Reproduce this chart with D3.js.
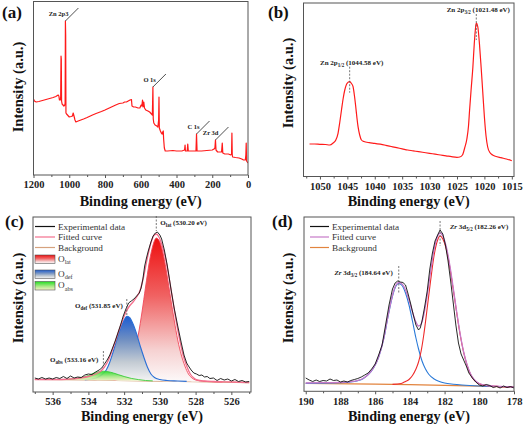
<!DOCTYPE html>
<html><head><meta charset="utf-8">
<script src="https://cdn.jsdelivr.net/npm/d3@7"></script>
<style>body{margin:0;background:#fff}svg{display:block}</style>
</head><body>
<svg id="chart" width="524" height="426"></svg>
<script>
// ---------------- DATA ----------------
// (a) XPS survey: [binding energy (eV), intensity (a.u.)]
const surveyData = [[1200,76],[1195,74],[1185,73],[1170,73.5],[1150,74.5],[1130,75.5],[1110,76.5],[1090,77.5],[1075,78.5],[1062,80],[1058,79],[1055,75],[1050,75],[1048,78],[1046,119],[1044.5,116],[1043,74],[1040,71],[1035,70],[1030,69],[1025,70],[1023,72],[1021.5,154],[1020,140],[1018.5,62],[1015,61],[1010,60],[1000,58],[990,58.5],[982,59],[978,62],[975,60],[972,58],[968,55],[963,53],[950,54],[920,56],[900,57.5],[870,60],[850,61.5],[820,63.5],[800,65],[770,67.5],[740,70],[720,71.5],[700,72],[690,73],[680,73],[670,74],[660,75],[652,75.5],[649,69],[640,68],[630,68],[615,67],[605,67],[598,70],[594,69],[590,75],[587,68],[583,73],[579,67],[572,65],[560,64],[550,63],[540,61],[535,60],[532,88],[530,56],[527,52],[520,50],[510,49],[504,48],[500,55],[498,78],[496,47],[490,44],[485,42],[480,41],[477,43],[474,44],[472,36],[468,27],[463,24],[450,24],[420,24.5],[400,24],[370,24],[355,25],[352,30],[350,24],[340,24],[337,31],[334,24],[320,24],[300,24],[291,24],[288,41],[285,24],[260,24],[230,24.5],[200,25],[190,26],[185,27],[182,35],[179,25],[170,23],[160,23],[148,23],[144,32],[141,22],[130,21],[110,21],[96,20],[92,21],[90,42],[88,20],[86,18],[70,17.5],[50,17],[35,16],[25,15],[15,15],[12,20],[10,32],[8,14],[4,13],[0,12]];
const surveyTicks = [1200,1000,800,600,400,200,0];
const surveyMinor = [1100,900,700,500,300,100];
const surveyPeaks = [["Zn 2p3",1021.5,154],["O 1s",532,88],["C 1s",288,41],["Zr 3d",182,35]];

// (b) Zn 2p
const zn2pData = [[1051.9,32],[1051,32],[1050,31.7],[1049,31.5],[1048.2,31],[1047.6,33],[1047.1,36],[1046.7,42.7],[1046.4,53],[1046.07,66],[1045.75,78],[1045.47,86],[1045.05,92.7],[1044.58,94.3],[1044.25,92.5],[1043.96,89.3],[1043.7,80],[1043.47,69.3],[1043.25,58],[1043.05,49.3],[1042.75,41],[1042.43,36],[1042,34.5],[1041,33.3],[1040,32.7],[1039,31.8],[1038,30.7],[1037,29.5],[1036,28.3],[1035,27.2],[1034,26],[1033,25.2],[1032,24.3],[1031,23.5],[1030,22.7],[1029,21.8],[1028,21],[1027,20.2],[1026,19.3],[1025,18.7],[1024.5,19],[1024,21],[1023.6,28],[1023.2,37],[1022.9,50],[1022.7,66],[1022.4,88],[1022.1,109],[1021.85,132],[1021.6,149],[1021.48,153],[1021.2,149],[1020.9,132],[1020.6,109],[1020.3,84],[1020.0,59],[1019.7,40],[1019.4,29],[1019.0,23.5],[1018.5,21],[1018,19.8],[1017,18.3],[1016,17],[1015,15.3]];
const zn2pTicks = [1050,1045,1040,1035,1030,1025,1020,1015];
const zn2pMinor = [1052.5,1047.5,1042.5,1037.5,1032.5,1027.5,1022.5,1017.5];
const zn2pPeaks = [["2p","3/2","(1021.48 eV)",1021.48,153],["2p","1/2","(1044.58 eV)",1044.58,94.3]];

// (c) O 1s
const o1sExp = [[537.0,14],[536.8,13],[536.6,14.5],[536.4,13],[536.2,14],[536.0,13],[535.8,14.5],[535.6,13.5],[535.4,15.5],[535.2,13.5],[535.0,16],[534.8,14],[534.6,15],[534.4,14.5],[534.2,17],[534.0,18],[533.8,17.5],[533.6,20],[533.4,22],[533.25,24],[533.1,28],[532.95,32],[532.8,37],[532.65,44],[532.5,51],[532.35,59],[532.2,67],[532.05,76],[531.9,83],[531.75,89],[531.6,91],[531.45,93],[531.3,96],[531.15,99],[531.05,104],[530.95,113],[530.85,126],[530.75,134],[530.65,141],[530.5,150],[530.38,156],[530.25,159],[530.14,160],[530.0,157],[529.9,153],[529.75,142],[529.6,128],[529.5,117],[529.37,102],[529.2,84],[529.0,66],[528.8,49],[528.65,37],[528.5,29],[528.4,26],[528.25,22],[528.1,19],[527.95,18],[527.8,16.5],[527.65,17],[527.5,15],[527.35,15.5],[527.2,13.5],[527.0,14],[526.8,11.5],[526.6,13.5],[526.4,12],[526.2,13],[526.0,11],[525.8,12.5],[525.6,10.5],[525.4,11.5],[525.2,10],[525.0,10.5]];
const o1sFit = [[537.0,12.5],[536,12.5],[535,13],[534.5,14],[534,15.5],[533.6,18],[533.3,21],[533.1,25],[532.9,31],[532.7,40],[532.5,50],[532.3,61],[532.1,71],[531.9,80],[531.7,86],[531.5,90],[531.3,95],[531.1,102],[530.9,116],[530.7,134],[530.5,149],[530.35,156],[530.2,158],[530.05,155],[529.9,148],[529.7,135],[529.5,116],[529.3,94],[529.1,72],[528.9,53],[528.7,37],[528.5,26],[528.3,18],[528.1,14],[527.9,12],[527.5,11],[527,10.5],[526,10],[525,9.5]];
const o1sBg = [[537,12.5],[534,12],[531,11.2],[528,10.3],[525,9.3]];
const oLat = [[532.6,12],[532.2,13],[532.0,16],[531.8,22],[531.6,31],[531.4,43],[531.2,58],[531.0,80],[530.8,105],[530.6,129],[530.4,146],[530.2,154],[530.0,150],[529.8,137],[529.6,117],[529.4,94],[529.2,72],[529.0,52],[528.8,37],[528.6,26],[528.4,18],[528.2,14],[528.0,12],[527.6,10.8],[527.0,10.2],[526.5,10]];
const oDef = [[534.2,12.2],[533.8,13],[533.5,14.5],[533.2,18],[533.0,22],[532.8,30],[532.6,41],[532.4,53],[532.2,64],[532.0,72],[531.85,75.7],[531.7,74.5],[531.5,68],[531.3,58],[531.1,46],[530.9,35],[530.7,25],[530.5,18],[530.3,14.5],[530.0,12.5],[529.6,11.5],[529.0,11],[528.5,10.6]];
const oAbs = [[535.2,12.6],[534.8,13.3],[534.4,14.5],[534.0,16.5],[533.7,18.8],[533.4,20.3],[533.16,20.8],[532.9,20.3],[532.6,19],[532.3,17.2],[532.0,15.5],[531.6,13.6],[531.2,12.4],[530.8,11.5],[530.4,11.1]];
const o1sTicks = [536,534,532,530,528,526];
const o1sMinor = [537,535,533,531,529,527,525];
const o1sPeaks = [["lat","(530.20 eV)",530.20],["def","(531.85 eV)",531.85],["abs","(533.16 eV)",533.16]];

// (d) Zr 3d
const zrExp = [[190.0,13],[189.8,11],[189.6,9.5],[189.4,11],[189.2,9.5],[189.0,10.5],[188.8,10],[188.6,12],[188.4,10.5],[188.2,11],[188.0,9],[187.8,10],[187.6,9],[187.4,10.5],[187.2,11.5],[187.0,12.5],[186.8,14],[186.6,16],[186.4,18],[186.2,22],[186.0,27],[185.8,36],[185.6,46],[185.4,66],[185.2,86],[185.0,102],[184.85,108],[184.7,110],[184.55,109],[184.4,108.5],[184.25,106],[184.1,97],[183.95,87],[183.8,76],[183.65,66],[183.5,61],[183.4,63],[183.3,70],[183.15,84],[183.0,100],[182.85,122],[182.7,138],[182.55,150],[182.4,156],[182.26,161],[182.1,157],[181.95,146],[181.8,130],[181.65,110],[181.5,88],[181.35,66],[181.2,48],[181.05,37],[180.9,31],[180.75,25],[180.6,18],[180.4,13],[180.2,9],[180.0,6],[179.8,5],[179.6,6.5],[179.4,5.5],[179.2,3.5],[179.0,4.5],[178.8,3],[178.6,5],[178.4,3.5],[178.2,4.5],[178.0,3]];
const zrFit = [[190,8],[189,8.3],[188,8.6],[187.5,9.2],[187,10.5],[186.7,12.5],[186.4,16.5],[186.1,23],[185.8,34],[185.5,53],[185.25,76],[185.0,96],[184.8,106],[184.64,108.5],[184.45,107],[184.25,101],[184.05,91],[183.85,79],[183.65,69],[183.5,65],[183.35,67],[183.2,76],[183.0,96],[182.8,120],[182.6,142],[182.4,155],[182.26,158],[182.1,155],[181.9,144],[181.7,126],[181.5,103],[181.3,79],[181.1,57],[180.9,39],[180.7,26],[180.5,17],[180.3,11.5],[180.0,7.5],[179.5,5.5],[179,4.8],[178,4]];
const zrBg = [[190,7.6],[186,6.8],[184,6.4],[182,5.6],[180,4.8],[178,4]];
const zr32 = [[190,7.6],[188,8.2],[187.5,8.8],[187,10.3],[186.7,12.3],[186.4,16.3],[186.1,22.8],[185.8,33.8],[185.5,52.5],[185.25,75],[185.0,95],[184.8,105],[184.64,107.5],[184.45,105.5],[184.25,98],[184.05,86],[183.85,70],[183.65,53],[183.5,42],[183.3,30],[183.1,22],[182.9,16.5],[182.6,12],[182.3,9.5],[182,8],[181.5,6.8],[181,6],[180,5],[179,4.5],[178,4]];
const zr52 = [[185,6.6],[184.5,7.5],[184.25,9.6],[184.05,11.5],[183.85,15.5],[183.65,22],[183.5,29],[183.35,40],[183.2,56],[183.0,83],[182.8,111],[182.6,136],[182.4,151],[182.26,155],[182.1,152],[181.9,142],[181.7,124],[181.5,101.5],[181.3,78],[181.1,56],[180.9,38.5],[180.7,25.5],[180.5,16.5],[180.3,11],[180.0,7.2],[179.5,5.3],[179,4.6],[178,4]];
const zrTicks = [190,188,186,184,182,180,178];
const zrMinor = [189,187,185,183,181,179];
const zrPeaks = [["5/2","(182.26 eV)",182.26],["3/2","(184.64 eV)",184.64]];

// ---------------- DRAWING ----------------
const SERIF = "'Liberation Serif','Times New Roman',Times,serif";
const svg = d3.select('#chart');
const defs = svg.append('defs');

function grad(id, stops){
  const lg = defs.append('linearGradient').attr('id',id).attr('x1',0).attr('y1',0).attr('x2',0).attr('y2',1);
  stops.forEach(([o,c])=>lg.append('stop').attr('offset',o).attr('stop-color',c));
}
grad('gLat',[[0,'#ee1010'],[0.4,'#f06262'],[0.78,'#f6d2d2'],[1,'#fdfafa']]);
grad('gDef',[[0,'#1c5cd2'],[0.35,'#6e8ec2'],[0.7,'#c3cbd3'],[1,'#f5f5f5']]);
grad('gAbs',[[0,'#22dd22'],[0.55,'#a6e884'],[1,'#f6f2c8']]);

function makeInterp(arr){
  const s = arr.slice().sort((a,b)=>a[0]-b[0]); const xs = s.map(d=>d[0]);
  return E => { const i = d3.bisectLeft(xs,E);
    if(i<=0) return s[0][1]; if(i>=s.length) return s[s.length-1][1];
    const a=s[i-1], b=s[i], t=(E-a[0])/(b[0]-a[0]); return a[1]+t*(b[1]-a[1]); };
}

function addPanel(c){
  const g = svg.append('g');
  const x = d3.scaleLinear().domain(c.xd).range([c.left,c.right]);
  const y = d3.scaleLinear().domain(c.yd).range([c.bottom,c.top]);
  defs.append('clipPath').attr('id','clip'+c.id).append('rect')
    .attr('x',c.left).attr('y',c.top).attr('width',c.right-c.left).attr('height',c.bottom-c.top);
  const plot = g.append('g').attr('clip-path',`url(#clip${c.id})`);
  const ax1 = g.append('g').attr('transform',`translate(0,${c.bottom})`)
    .call(d3.axisBottom(x).tickValues(c.minor).tickSize(2).tickFormat(''));
  ax1.select('.domain').remove();
  ax1.selectAll('text').remove();
  const ax2 = g.append('g').attr('transform',`translate(0,${c.bottom})`)
    .call(d3.axisBottom(x).tickValues(c.major).tickSize(3).tickPadding(3).tickFormat(d3.format('d')));
  ax2.select('.domain').remove();
  g.selectAll('.tick line').attr('stroke','#555');
  ax2.selectAll('text').attr('font-family',SERIF).attr('font-weight','bold').attr('font-size',10.5).attr('fill','#222');
  g.append('rect').attr('x',c.left).attr('y',c.top).attr('width',c.right-c.left).attr('height',c.bottom-c.top)
    .attr('fill','none').attr('stroke','#555').attr('stroke-width',1);
  g.append('text').attr('x',(c.left+c.right)/2).attr('y',c.xtY).attr('text-anchor','middle')
    .attr('font-family',SERIF).attr('font-weight','bold').attr('font-size',14.2).attr('fill','#111')
    .text('Binding energy (eV)');
  g.append('text').attr('transform',`translate(${c.ytX},${c.ytY}) rotate(-90)`).attr('text-anchor','middle')
    .attr('font-family',SERIF).attr('font-weight','bold').attr('font-size',14.5).attr('fill','#111')
    .text('Intensity (a.u.)');
  g.append('text').attr('x',c.labX).attr('y',c.labY)
    .attr('font-family',SERIF).attr('font-weight','bold').attr('font-size',17).attr('fill','#111').text(c.label);
  return {g,plot,x,y};
}

const lineGen = (x,y,curve)=>d3.line().x(d=>x(d[0])).y(d=>y(d[1])).curve(curve||d3.curveLinear);

function richText(parent, xPos, yPos, anchor, size, parts){
  const t = parent.append('text').attr('x',xPos).attr('y',yPos).attr('text-anchor',anchor)
    .attr('font-family',SERIF).attr('font-weight','bold').attr('font-size',size).attr('fill','#222');
  parts.forEach(p=>{
    const ts = t.append('tspan').text(p.t);
    if(p.sub){ ts.attr('font-size',size*0.72).attr('dy',size*0.35); }
    else if(p.after){ ts.attr('dy',-size*0.35); }
    if(p.it) ts.attr('font-style','italic');
  });
  return t;
}

// ---- (a) ----
{
  const P = addPanel({id:'a',left:33.5,right:248,top:1.5,bottom:175,xd:[1200,0],yd:[0,173.5],
    major:surveyTicks,minor:surveyMinor,label:'(a)',labX:2,labY:18,xtY:206,ytX:23,ytY:87});
  P.plot.append('path').datum(surveyData).attr('d',lineGen(P.x,P.y))
    .attr('fill','none').attr('stroke','#ff1a1a').attr('stroke-width',1.2).attr('stroke-linejoin','round');
  surveyPeaks.forEach(([t,E,I])=>{
    const px=P.x(E), py=P.y(I);
    P.g.append('line').attr('x1',px).attr('y1',py).attr('x2',px+13).attr('y2',py-13)
      .attr('stroke','#222').attr('stroke-width',0.8);
    P.g.append('text').attr('x',px+3).attr('y',py-5).attr('text-anchor','end')
      .attr('font-family',SERIF).attr('font-weight','bold').attr('font-size',6.5).attr('fill','#222').text(t);
  });
}

// ---- (b) ----
{
  const P = addPanel({id:'b',left:303.5,right:514,top:3,bottom:176.5,xd:[1053,1014.6],yd:[-0.5,173],
    major:zn2pTicks,minor:zn2pMinor,label:'(b)',labX:268,labY:18,xtY:206,ytX:293,ytY:83});
  P.plot.append('path').datum(zn2pData).attr('d',lineGen(P.x,P.y,d3.curveMonotoneX))
    .attr('fill','none').attr('stroke','#ff1a1a').attr('stroke-width',1.2);
  zn2pPeaks.forEach(([orb,sub,ev,E,I])=>{
    const px=P.x(E), py=P.y(I);
    const top = sub==='3/2' ? py-9 : py-15;
    P.g.append('line').attr('x1',px).attr('x2',px).attr('y1',top).attr('y2',top+26)
      .attr('stroke','#555').attr('stroke-width',0.8).attr('stroke-dasharray','2,1.5');
    richText(P.g, px+2, top-2, 'middle', 7,
      [{t:'Zn '+orb},{t:sub,sub:true},{t:' '+ev,after:true}]);
  });
}

// ---- (c) ----
{
  const P = addPanel({id:'c',left:33,right:251,top:217,bottom:392,xd:[537.1,524.9],yd:[0,175],
    major:o1sTicks,minor:o1sMinor,label:'(c)',labX:5,labY:227,xtY:420.5,ytX:23,ytY:298});
  const {x,y,plot} = P;
  const bgAt = makeInterp(o1sBg);
  const area = d3.area().x(d=>x(d[0])).y0(d=>y(bgAt(d[0]))).y1(d=>y(d[1])).curve(d3.curveMonotoneX);
  const cl = lineGen(x,y,d3.curveMonotoneX);
  plot.append('path').datum(o1sBg).attr('d',lineGen(x,y)).attr('fill','none').attr('stroke','#d6a27e').attr('stroke-width',1.2);
  plot.append('path').datum(oLat).attr('d',area).attr('fill','url(#gLat)');
  plot.append('path').datum(oLat).attr('d',cl).attr('fill','none').attr('stroke','#f04a5a').attr('stroke-width',0.9);
  plot.append('path').datum(oDef).attr('d',area).attr('fill','url(#gDef)');
  plot.append('path').datum(oDef).attr('d',cl).attr('fill','none').attr('stroke','#2a6fd6').attr('stroke-width',1.1);
  plot.append('path').datum(oAbs).attr('d',area).attr('fill','url(#gAbs)').attr('opacity',0.9);
  plot.append('path').datum(oAbs).attr('d',cl).attr('fill','none').attr('stroke','#3acb3a').attr('stroke-width',0.9);
  plot.append('path').datum(o1sFit).attr('d',cl).attr('fill','none').attr('stroke','#f4708e').attr('stroke-width',1.3);
  plot.append('path').datum(o1sExp).attr('d',lineGen(x,y)).attr('fill','none').attr('stroke','#111').attr('stroke-width',0.9);
  const ann = [{top:216,len:15,dx:4,anchor:'start',ty:227},{top:299,len:17,dx:-4,anchor:'end',ty:310},{top:351,len:15,dx:-5,anchor:'end',ty:364}];
  o1sPeaks.forEach(([sub,ev,E],i)=>{
    const a = ann[i], px = x(E);
    P.g.append('line').attr('x1',px).attr('x2',px).attr('y1',a.top).attr('y2',a.top+a.len)
      .attr('stroke','#555').attr('stroke-width',0.8).attr('stroke-dasharray','2,1.5');
    richText(P.g, px+a.dx, a.ty-2, a.anchor, 7, [{t:'O'},{t:sub,sub:true},{t:' '+ev,after:true}]);
  });
  const lg = P.g.append('g');
  const items = [['Experimental data','#111',226.5],['Fitted curve','#f4708e',237],['Background','#d6a27e',247.5]];
  items.forEach(([t,col,yy])=>{
    lg.append('line').attr('x1',35).attr('x2',55).attr('y1',yy).attr('y2',yy).attr('stroke',col).attr('stroke-width',1.2);
    lg.append('text').attr('x',58).attr('y',yy+3).attr('font-family',SERIF).attr('font-size',9.2).attr('fill','#333').text(t);
  });
  [['gLat','lat',255],['gDef','def',270],['gAbs','abs',281.5]].forEach(([gid,sub,yy])=>{
    lg.append('rect').attr('x',35).attr('y',yy).attr('width',20).attr('height',8.5)
      .attr('fill',`url(#${gid})`).attr('stroke','#555').attr('stroke-width',0.6);
    const t = lg.append('text').attr('x',58).attr('y',yy+6.5).attr('font-family',SERIF).attr('font-size',9.2).attr('fill','#333');
    t.append('tspan').text('O');
    t.append('tspan').text(sub).attr('font-size',6.2).attr('dy',2.5);
  });
}

// ---- (d) ----
{
  const P = addPanel({id:'d',left:304,right:514,top:217,bottom:391.3,xd:[190.1,178],yd:[-0.3,174],
    major:zrTicks,minor:zrMinor,label:'(d)',labX:272,labY:227,xtY:420.5,ytX:293,ytY:298});
  const {x,y,plot} = P;
  const cl = lineGen(x,y,d3.curveMonotoneX);
  plot.append('path').datum(zrBg).attr('d',lineGen(x,y)).attr('fill','none').attr('stroke','#e2843e').attr('stroke-width',1.2);
  plot.append('path').datum(zr32).attr('d',cl).attr('fill','none').attr('stroke','#2a7ad8').attr('stroke-width',1.1);
  plot.append('path').datum(zr52).attr('d',cl).attr('fill','none').attr('stroke','#ee2a2a').attr('stroke-width',1.1);
  plot.append('path').datum(zrFit).attr('d',cl).attr('fill','none').attr('stroke','#c77ac9').attr('stroke-width',1.3);
  plot.append('path').datum(zrExp).attr('d',lineGen(x,y)).attr('fill','none').attr('stroke','#111').attr('stroke-width',0.9);
  const ann = [{top:221,len:25,dx:10,anchor:'start',ty:231},{top:266,len:27,dx:-6,anchor:'end',ty:277}];
  zrPeaks.forEach(([sub,ev,E],i)=>{
    const a = ann[i], px = x(E);
    P.g.append('line').attr('x1',px).attr('x2',px).attr('y1',a.top).attr('y2',a.top+a.len)
      .attr('stroke','#555').attr('stroke-width',0.8).attr('stroke-dasharray','2,1.5');
    richText(P.g, px+a.dx, a.ty-2, a.anchor, 7, [{t:'Zr',it:true},{t:' 3d'},{t:sub,sub:true},{t:' '+ev,after:true}]);
  });
  const lg = P.g.append('g');
  [['Experimental data','#111',226.5],['Fitted curve','#c77ac9',237],['Background','#e2843e',247.5]].forEach(([t,col,yy])=>{
    lg.append('line').attr('x1',310).attr('x2',329).attr('y1',yy).attr('y2',yy).attr('stroke',col).attr('stroke-width',1.2);
    lg.append('text').attr('x',332).attr('y',yy+3).attr('font-family',SERIF).attr('font-size',9.2).attr('fill','#333').text(t);
  });
}
</script>
</body></html>
